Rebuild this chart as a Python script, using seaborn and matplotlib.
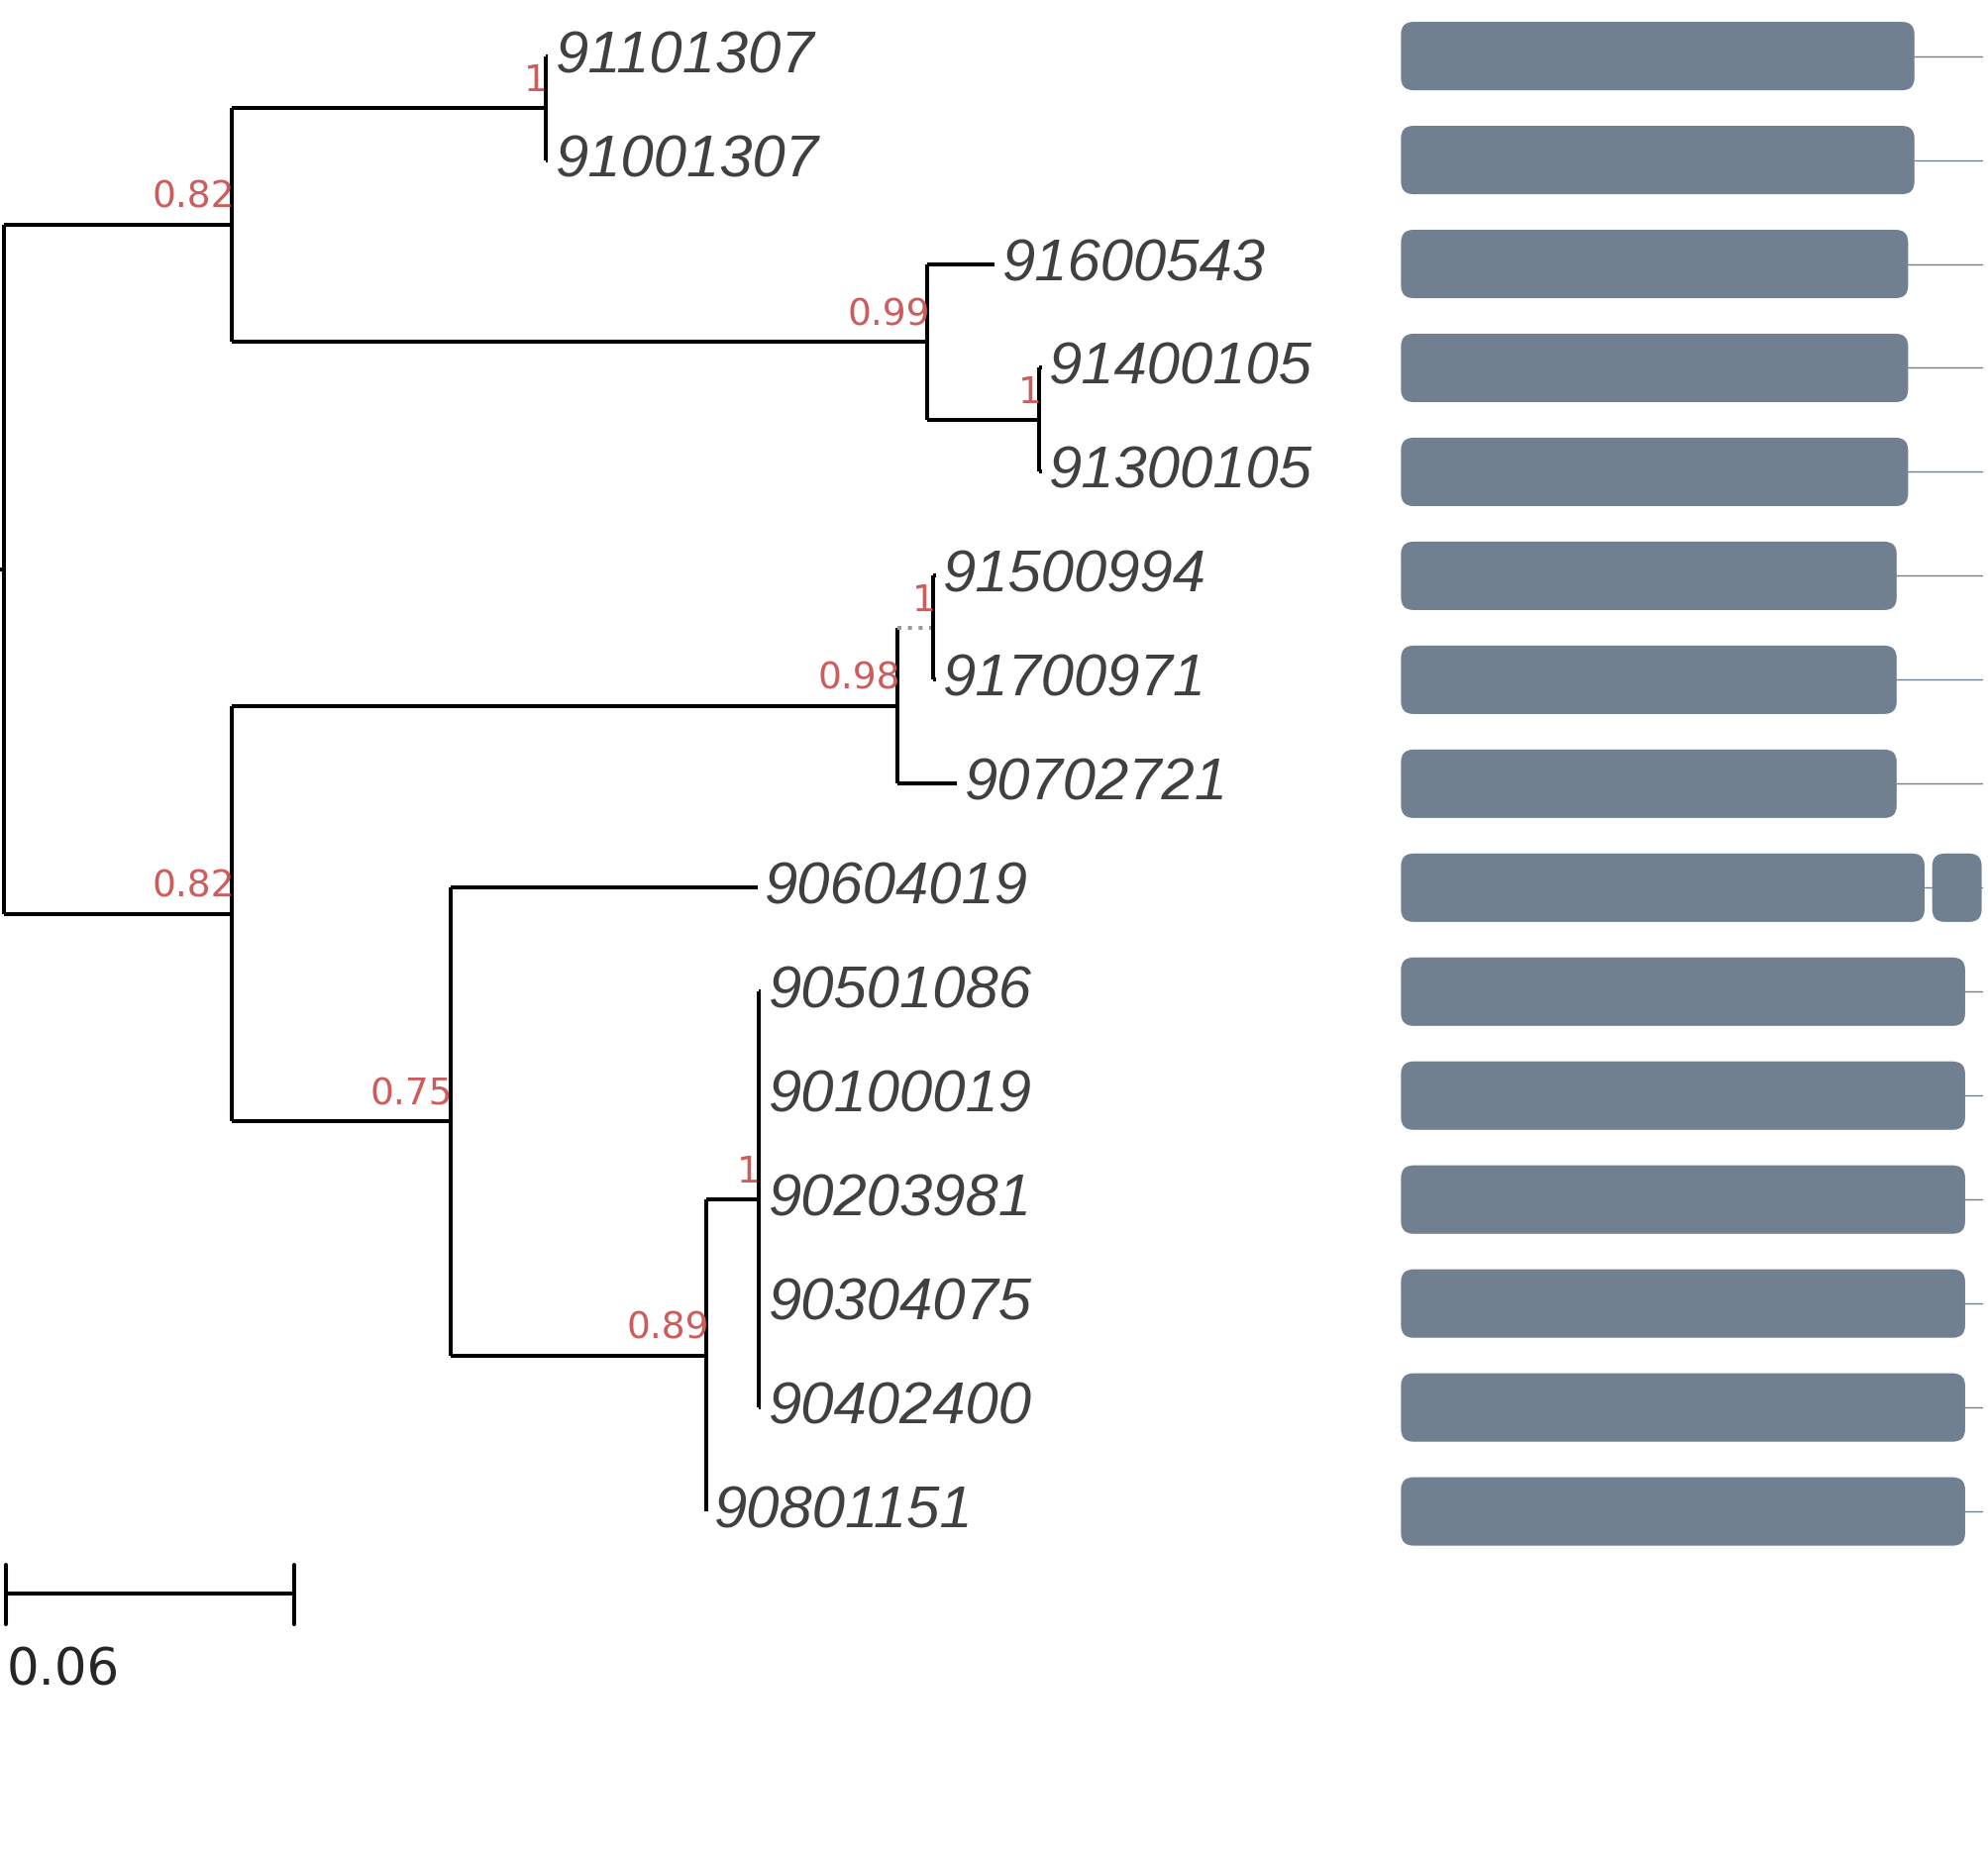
import matplotlib
matplotlib.use("Agg")
import matplotlib.pyplot as plt
from matplotlib.patches import FancyBboxPatch
import seaborn as sns

# tree: node -> (parent, branch length, support)
nodes = ["root", "A", "B", "C", "D", "E", "F", "G", "H", "I", "J"]
parents = [None, "root", "root", "A", "A", "D", "B", "B", "F", "G", "I"]
lengths = [0.0, 0.0476, 0.0476, 0.0653, 0.145, 0.0233, 0.1388, 0.0455, 0.0074, 0.0534, 0.0108]
supports = [None, "0.82", "0.82", "1", "0.99", "1", "0.98", "0.75", "1", "0.89", "1"]

leaves = ["91101307", "91001307", "91600543", "91400105", "91300105",
          "91500994", "91700971", "90702721", "90604019", "90501086",
          "90100019", "90203981", "90304075", "90402400", "90801151"]
leaf_parents = ["C", "C", "D", "E", "E", "H", "H", "F", "G", "J", "J", "J", "J", "J", "I"]
leaf_lengths = [0.0005, 0.0005, 0.014, 0.0005, 0.0005, 0.0005, 0.0005, 0.0124,
                0.064, 0.0005, 0.0005, 0.0005, 0.0005, 0.0005, 0.0]

# domain boxes (right panel), in relative units
box_end = [1510, 1510, 1505, 1505, 1505, 1496, 1496, 1496, 1518, 1550, 1550, 1550, 1550, 1550, 1550]
extra_box = {8: (1524, 1563)}
scale_len = 0.06

PX = 3783.0  # pixels per unit of substitution (display scale)
W, H = 1568, 1464
sns.set_style("white")
fig = plt.figure(figsize=(20.07, 18.74), dpi=100)
ax = fig.add_axes([0, 0, 1, 1])
ax.set_xlim(0, W)
ax.set_ylim(H, 0)
ax.axis("off")

def ypx(row):
    return 45 + 82 * row

# compute positions
xpos = {"root": 3.0}
par = dict(zip(nodes, parents))
blen = dict(zip(nodes, lengths))
for n in nodes[1:]:
    xpos[n] = xpos[par[n]] + blen[n] * PX
children = {n: [] for n in nodes}
for n in nodes[1:]:
    children[par[n]].append(n)
for i, l in enumerate(leaves):
    children[leaf_parents[i]].append(l)
    xpos[l] = xpos[leaf_parents[i]] + leaf_lengths[i] * PX
    par[l] = leaf_parents[i]
ypos = {l: ypx(i) for i, l in enumerate(leaves)}

def gety(n):
    if n in ypos:
        return ypos[n]
    ys = [gety(c) for c in children[n]]
    ypos[n] = (min(ys) + max(ys)) / 2
    return ypos[n]
gety("root")

lw = 2.9
for n, ch in children.items():
    if not ch:
        continue
    ys = [ypos[c] for c in ch]
    ax.plot([xpos[n], xpos[n]], [min(ys), max(ys)], color="black", lw=lw, solid_capstyle="butt")
    for c in ch:
        if c == "H":
            ax.plot([xpos[n], xpos[c]], [ypos[c]] * 2, color="#999999", lw=lw, ls=":")
        else:
            ax.plot([xpos[n], xpos[c]], [ypos[c]] * 2, color="black", lw=lw, solid_capstyle="butt")
# root stub
ax.plot([0, 3], [ypos["root"]] * 2, color="black", lw=lw)

for n, s in zip(nodes, supports):
    if s:
        ax.text(xpos[n] + 2, ypos[n] - 8, s, color="#cd5c5c", fontsize=27,
                family="DejaVu Sans", ha="right", va="bottom")

for i, l in enumerate(leaves):
    ax.text(xpos[l] + 6, ypos[l], l, fontsize=43, style="italic", color="#404040",
            family="Liberation Sans", ha="left", va="center")
    y = ypos[l]
    ax.plot([box_end[i], 1563], [y, y], color="#708090", lw=1)
    segs = [(1105, box_end[i])]
    if i in extra_box:
        segs.append(extra_box[i])
    for x0, x1 in segs:
        ax.add_patch(FancyBboxPatch((x0 + 10, y - 17), x1 - x0 - 20, 34,
                                    boxstyle="round,pad=10", fc="#708090", ec="none"))

# scale bar
yb = 1258
x1 = 5 + scale_len * PX * (227 / (scale_len * PX))
ax.plot([5, 5 + scale_len * PX], [yb, yb], color="black", lw=lw)
for xx in (5, 5 + scale_len * PX):
    ax.plot([xx, xx], [1235, 1282], color="black", lw=lw)
ax.text(5, 1318, f"{scale_len:g}", fontsize=37, family="DejaVu Sans", ha="left", va="center")

fig.savefig("out.png", dpi=100)
